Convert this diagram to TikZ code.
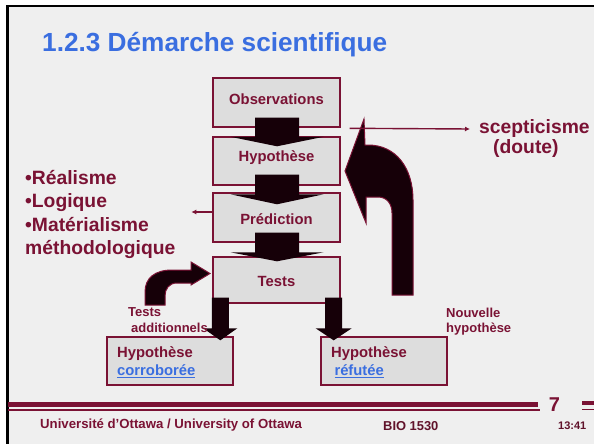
\documentclass[tikz,border=0pt]{standalone}
\usepackage{fontspec}
\setmainfont{Liberation Sans}
\usetikzlibrary{arrows.meta,calc}
\definecolor{bgc}{HTML}{EFEFEF}
\definecolor{boxc}{HTML}{DDDDDD}
\definecolor{mar}{RGB}{122,18,52}
\definecolor{darkmar}{RGB}{96,18,42}
\definecolor{afill}{RGB}{22,0,8}
\definecolor{tblue}{RGB}{58,110,224}
\newcommand\blkdown[5]{%
  \fill[afill] let \p1=(#1), \p2=(#2) in
  (\x1-#3,\y1) -- (\x1+#3,\y1) -- (\x1+#3,\y2+#5) -- (\x1+#4,\y2+#5) -- (\x1,\y2)
  -- (\x1-#4,\y2+#5) -- (\x1-#3,\y2+#5) -- cycle;}
\begin{document}
\begin{tikzpicture}[x=1pt,y=-1pt,
  stepbox/.style={draw=mar,line width=1.4pt,fill=boxc,inner sep=0pt,minimum width=127pt},
  resbox/.style={draw=mar,line width=1.4pt,fill=boxc,inner sep=0pt,minimum width=126pt,minimum height=48pt},
  boxtxt/.style={inner sep=0pt,anchor=base,text=mar,font=\bfseries\fontsize{14.8}{17}\selectfont},
  restxt/.style={inner sep=0pt,anchor=base west,text=mar,font=\bfseries\fontsize{14.8}{17}\selectfont},
  listtxt/.style={inner sep=0pt,anchor=base west,text=mar,font=\bfseries\fontsize{19.3}{22}\selectfont},
  smalltxt/.style={inner sep=0pt,anchor=base west,text=mar,font=\bfseries\fontsize{13}{15}\selectfont},
  linktxt/.style={inner sep=0pt,anchor=base west,text=tblue,font=\bfseries\fontsize{14.8}{17}\selectfont},
  thinarr/.style={draw=mar,line width=1.4pt,-{Latex[length=5pt,width=5pt]}},
  bigarr/.style={fill=afill,draw=mar,line width=1pt,line join=miter},
  footline/.style={mar,line width=#1}
]
\useasboundingbox (0,0) rectangle (594,444);
% background and frame
\fill[white] (0,0) rectangle (594,444);
\fill[bgc] (8,7) rectangle (594,444);
\draw[black,line width=2.6pt] (7.3,444) -- (7.3,6) -- (594,6);

% title
\node[inner sep=0pt,anchor=base west,text=tblue,font=\bfseries\fontsize{26.2}{30}\selectfont] (title) at (42,52) {1.2.3 Démarche scientifique};

% main boxes
\node[stepbox,minimum height=49pt] (obs) at (276.5,102.5) {};
\node[stepbox,minimum height=48pt] (hyp) at (276.5,161) {};
\node[stepbox,minimum height=49pt] (pred) at (276.5,217.5) {};
\node[stepbox,minimum height=46pt] (tests) at (276.5,280) {};
\node[resbox] (corr) at (170,361) {};
\node[resbox] (ref) at (384,361) {};

% block arrows between boxes
\blkdown{$(obs.south)+(0.5,-10)$}{$(hyp.north)+(0.5,10)$}{22pt}{46.5pt}{9.5pt}
\blkdown{$(hyp.south)+(0.5,-11)$}{$(pred.north)+(0.5,12)$}{22pt}{46.5pt}{10pt}
\blkdown{$(pred.south)+(0.5,-10)$}{$(tests.north)+(0.5,5)$}{22pt}{46.5pt}{9pt}
\blkdown{$(tests.south west)+(8,-6)$}{$(corr.north east)+(-12,4)$}{8.5pt}{17pt}{12pt}
\blkdown{$(tests.south east)+(-7,-6)$}{$(ref.north west)+(12,4)$}{8.5pt}{18pt}{12pt}

% box texts
\node[boxtxt] (tobs) at (276.5,104) {Observations};
\node[boxtxt] (thyp) at (276.5,161.5) {Hypothèse};
\node[boxtxt] (tpred) at (276.5,224.5) {Prédiction};
\node[boxtxt] (ttests) at (276.5,286.5) {Tests};
\node[restxt] (tc1) at (117,357.7) {Hypothèse};
\node[linktxt] (tc2) at (117,375.7) {\underline{corroborée}};
\node[restxt] (tr1) at (331,357.7) {Hypothèse};
\node[linktxt] (tr2) at (334.3,375.7) {\underline{réfutée}};

% big curved arrow (nouvelle hypothese)
\path[bigarr] (392,295) -- (392,213) .. controls (392,204) and (387,197) .. (378,197)
  -- (366,197) -- (366,223) -- (345,171) -- (364,119) -- (365,145) -- (368,145)
  .. controls (396,145) and (413,168) .. (413,200) -- (413,295) -- cycle;

% small curved arrow (tests additionnels)
\path[bigarr] (145,305) -- (145,292) .. controls (145,278) and (155,270) .. (172,270)
  -- (191,270) -- (191,262) -- (210,273.5) -- (191,285) -- (191,283) -- (177,283)
  .. controls (169,283) and (165,289) .. (165,296) -- (165,305) -- cycle;

% side texts
\node[listtxt] (l1) at (25,184) {•Réalisme};
\node[listtxt] (l2) at (25,207.5) {•Logique};
\node[listtxt] (l3) at (25,231) {•Matérialisme};
\node[listtxt] (l4) at (25,254.5) {méthodologique};
\node[listtxt] (scep) at (479,133) {scepticisme};
\node[listtxt] (doute) at (493,153) {(doute)};
\node[smalltxt] (ta1) at (128,316.5) {Tests};
\node[smalltxt] (ta2) at (131,332.3) {additionnels};
\node[smalltxt] (nh1) at (446,317.3) {Nouvelle};
\node[smalltxt] (nh2) at (446,332.7) {hypothèse};

% thin arrows
\draw[thinarr] ($(pred.west)+(0,-5.5)$) -- ($(pred.west)+(-21,-5.5)$);
\draw[thinarr] ($(hyp.north east)+(9,-8)$) -- ($(scep.base west)+(-9,-4)$);

% footer
\draw[footline=5pt] (8,404) -- (538,404);
\draw[footline=1.6pt] (8,410.2) -- (540,410.2);
\draw[footline=4.5pt] (582,403) -- (594,403);
\draw[footline=1.6pt] (582,409.3) -- (594,409.3);
\node[inner sep=0pt,anchor=base,text=mar,font=\bfseries\fontsize{20}{24}\selectfont] (pnum) at (554.5,411.7) {7};
\node[inner sep=0pt,anchor=base west,text=mar,font=\bfseries\fontsize{13.2}{15}\selectfont] (univ) at (40,428.5) {Université d’Ottawa / University of Ottawa};
\node[inner sep=0pt,anchor=base west,text=darkmar,font=\bfseries\fontsize{12.9}{15}\selectfont] (bio) at (383,430) {BIO 1530};
\node[inner sep=0pt,anchor=base west,text=darkmar,font=\bfseries\fontsize{11}{13}\selectfont] (time) at (558,429.5) {13:41};
\end{tikzpicture}
\end{document}
